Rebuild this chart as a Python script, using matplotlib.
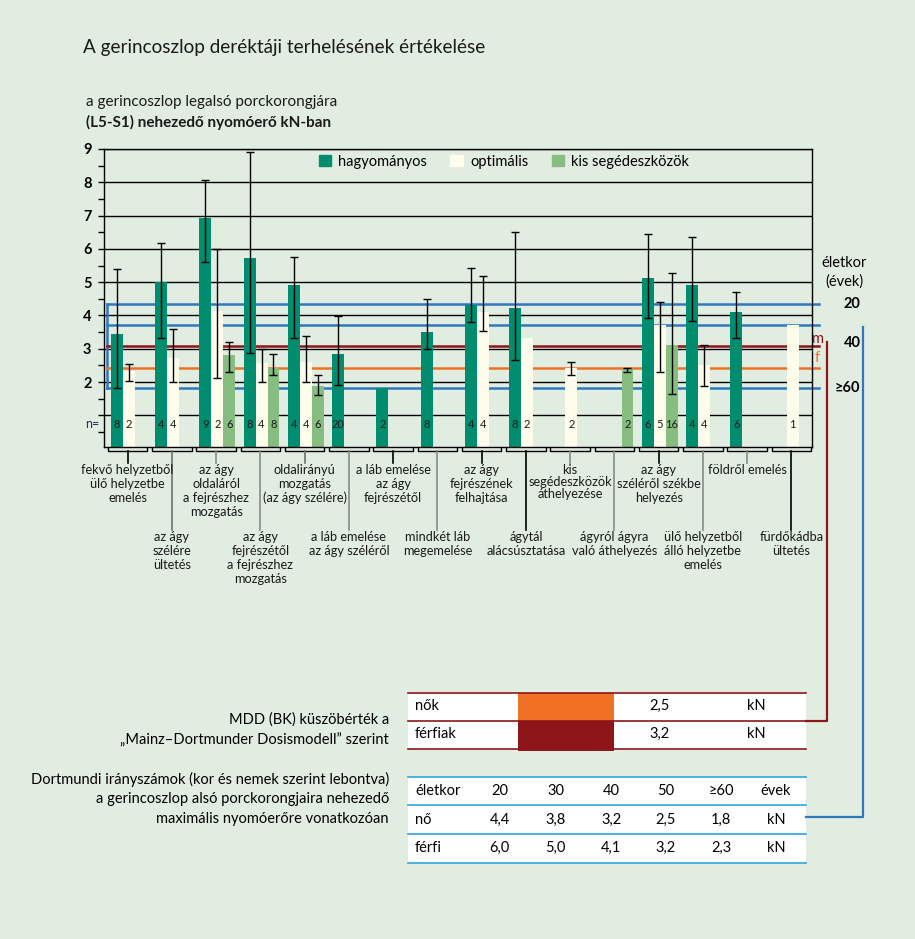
import numpy as np
import matplotlib.pyplot as plt
import matplotlib.transforms as mtransforms
from matplotlib.patches import Patch, Rectangle

plt.rcParams['font.family'] = ['Lato', 'DejaVu Sans']

nan = np.nan

# activity categories (even = upper label row, odd = lower label row)
categories = [
    'fekvő helyzetből\nülő helyzetbe\nemelés',
    'az ágy\nszélére\nültetés',
    'az ágy\noldaláról\na fejrészhez\nmozgatás',
    'az ágy\nfejrészétől\na fejrészhez\nmozgatás',
    'oldalirányú\nmozgatás\n(az ágy szélére)',
    'a láb emelése\naz ágy széléről',
    'a láb emelése\naz ágy\nfejrészétől',
    'mindkét láb\nmegemelése',
    'az ágy\nfejrészének\nfelhajtása',
    'ágytál\nalácsúsztatása',
    'kis\nsegédeszközök\náthelyezése',
    'ágyról ágyra\nvaló áthelyezés',
    'az ágy\nszéléről székbe\nhelyezés',
    'ülő helyzetből\nálló helyzetbe\nemelés',
    'földről emelés',
    'fürdőkádba\nültetés',
]

# hagyományos
hag = [3.45, 5.01, 6.94, 5.73, 4.92, 2.85, 1.82, 3.51, 4.32, 4.23, nan, nan, 5.12, 4.92, 4.10, nan]
hag_lo = [1.82, 3.31, 5.60, 2.87, 3.31, 1.90, nan, 2.99, 3.80, 2.66, nan, nan, 3.92, 3.82, 3.31, nan]
hag_hi = [5.39, 6.19, 8.06, 8.91, 5.77, 3.99, nan, 4.48, 5.42, 6.51, nan, nan, 6.46, 6.37, 4.70, nan]
hag_n = [8, 4, 9, 8, 4, 20, 2, 8, 4, 8, None, None, 6, 4, 6, None]

# optimális
opt = [2.34, 2.73, 4.14, 2.58, 2.61, nan, nan, nan, 4.11, 3.33, 2.43, nan, 3.71, 2.51, nan, 3.71]
opt_lo = [2.03, 2.00, 2.11, 2.00, 2.00, nan, nan, nan, 3.53, nan, 2.21, nan, 2.30, 1.87, nan, nan]
opt_hi = [2.53, 3.59, 6.00, 2.99, 3.39, nan, nan, nan, 5.20, nan, 2.60, nan, 4.39, 3.10, nan, nan]
opt_n = [2, 4, 2, 4, 4, None, None, None, 4, 2, 2, None, 5, 4, None, 1]

# kis segédeszközök
kis = [nan, nan, 2.80, 2.43, 1.89, nan, nan, nan, nan, nan, nan, 2.40, 3.11, nan, nan, nan]
kis_lo = [nan, nan, 2.30, 2.21, 1.60, nan, nan, nan, nan, nan, nan, 2.31, 1.64, nan, nan, nan]
kis_hi = [nan, nan, 3.19, 2.83, 2.20, nan, nan, nan, nan, nan, nan, 2.42, 5.29, nan, nan, nan]
kis_n = [None, None, 6, 8, 6, None, None, None, None, None, None, 2, 16, None, None, None]

# reference lines (kN)
limit_blue = [4.35, 3.70, 1.81]
limit_m = 3.09
limit_f = 2.43

# tables
mdd_rows = ['nők', 'férfiak']
mdd_vals = ['2,5', '3,2']
age_cols = ['20', '30', '40', '50', '≥60']
dort_female = ['4,4', '3,8', '3,2', '2,5', '1,8']
dort_male = ['6,0', '5,0', '4,1', '3,2', '2,3']

bg = '#E2EDE1'
c_hag = '#008C6F'
c_opt = '#FEFCEA'
c_kis = '#87BD80'
c_blue = '#2F78BE'
c_red = '#8E1519'
c_orange = '#F07024'
c_cyan = '#2AA6DF'

W, H = 915, 939
fig = plt.figure(figsize=(9.15, 9.39), dpi=100, facecolor=bg)


def fx(x):
    return x / W


def fy(y):
    return 1 - y / H


ax = fig.add_axes([fx(104), fy(447), (812 - 104) / W, (447 - 149) / H])
ax.set_facecolor(bg)
ax.set_xlim(0, 16)
ax.set_ylim(0.05, 9)
for s in ax.spines.values():
    s.set_linewidth(1.0)
    s.set_color('k')

ax.set_xticks([])
ax.set_yticks(range(1, 10))
ax.set_yticklabels([''] + [str(v) for v in range(2, 10)], fontweight='bold', fontsize=10.5)
ax.set_yticks(np.arange(0.5, 9, 1.0), minor=True)
ax.tick_params(axis='y', which='both', length=4, width=1, direction='out', pad=5)
ax.grid(axis='y', which='major', color='k', lw=1.0, zorder=0.5)
ax.set_axisbelow(True)

x = np.arange(len(categories))
w = 0.27
series = [
    (hag, hag_lo, hag_hi, hag_n, c_hag, 0.29),
    (opt, opt_lo, opt_hi, opt_n, c_opt, 0.56),
    (kis, kis_lo, kis_hi, kis_n, c_kis, 0.83),
]
for vals, lo, hi, ns, col, off in series:
    vals = np.array(vals)
    ax.bar(x + off, vals, width=w, color=col, zorder=2)
    yerr = [vals - np.array(lo), np.array(hi) - vals]
    ax.errorbar(x + off, vals, yerr=yerr, fmt='none', ecolor='k',
                elinewidth=1.0, capsize=3, capthick=1.0, zorder=3)
    for i, n in enumerate(ns):
        if n is not None:
            ax.text(x[i] + off, 0.74, str(n), ha='center', va='center',
                    fontsize=8, color='#1a1a1a', zorder=4)

ax.text(-0.1, 0.74, 'n=', ha='right', va='center', fontsize=9, color='#2B2C6E')

# reference lines, extending past the right spine
for v in limit_blue:
    ax.plot([0.07, 16.16], [v, v], color=c_blue, lw=1.8, clip_on=False, zorder=1)
ax.plot([0.07, 0.07], [min(limit_blue), max(limit_blue)], color=c_blue, lw=1.8, zorder=1)
ax.plot([0.07, 16.16], [limit_m, limit_m], color=c_red, lw=1.8, clip_on=False, zorder=1)
ax.plot([0.07, 16.16], [limit_f, limit_f], color=c_orange, lw=1.8, clip_on=False, zorder=1)

# legend
handles = [Patch(color=c_hag), Patch(color=c_opt), Patch(color=c_kis)]
ax.legend(handles, ['hagyományos', 'optimális', 'kis segédeszközök'], ncol=3,
          loc='center left', bbox_to_anchor=(0.303, 0.958), frameon=False,
          handlelength=0.85, handleheight=0.85, handletextpad=0.5,
          columnspacing=1.6, fontsize=10.5, borderaxespad=0, borderpad=0)

# category brackets, connectors and labels
trans = mtransforms.blended_transform_factory(ax.transData, ax.transAxes)
yb = -0.0144
conn_col = ['k', '#6f6f6f', '#8a8a8a', '#8a8a8a', '#6f6f6f', '#8a8a8a', 'k', '#8a8a8a',
            'k', 'k', '#8a8a8a', '#8a8a8a', 'k', '#8a8a8a', '#8a8a8a', 'k']
for i, lab in enumerate(categories):
    ax.plot([i + 0.09, i + 0.09, i + 0.98, i + 0.98], [-0.005, yb, yb, -0.005],
            transform=trans, clip_on=False, color='k', lw=1.0)
    lower = i % 2 == 1
    ybot = -0.2785 if lower else -0.0537
    ax.plot([i + 0.535, i + 0.535], [yb, ybot], transform=trans, clip_on=False,
            color=conn_col[i], lw=1.2)
    ls = 1.0 if i == 10 else 1.2
    ax.text(i + 0.535, ybot - 0.002, lab, transform=trans, ha='center', va='top',
            fontsize=9.2, linespacing=ls, color='#1a1a1a')

# titles
fig.text(fx(83), fy(47), 'A gerincoszlop deréktáji terhelésének értékelése',
         fontsize=13.6, va='center', ha='left', color='#1a1a1a')
fig.text(fx(86), fy(102), 'a gerincoszlop legalsó porckorongjára',
         fontsize=11, va='center', ha='left', color='#1a1a1a')
fig.text(fx(86), fy(122), '(L5-S1) nehezedő nyomóerő kN-ban',
         fontsize=11, va='center', ha='left', fontweight='bold', color='#1a1a1a')

# right side age labels
fig.text(fx(844), fy(263), 'életkor', fontsize=10.5, ha='center', va='center')
fig.text(fx(844), fy(282), '(évek)', fontsize=10.5, ha='center', va='center')
fig.text(fx(852), fy(304), '20', fontsize=10.5, ha='center', va='center', fontweight='bold')
fig.text(fx(852), fy(343), '40', fontsize=10.5, ha='center', va='center', fontweight='bold')
fig.text(fx(847), fy(388), '≥60', fontsize=10.5, ha='center', va='center', fontweight='bold')
fig.text(fx(818), fy(339), 'm', fontsize=10.5, ha='center', va='center', color=c_red)
fig.text(fx(817), fy(358), 'f', fontsize=10.5, ha='center', va='center', color=c_orange)

# overlay in pixel coordinates for tables and connectors
ov = fig.add_axes([0, 0, 1, 1])
ov.set_xlim(0, W)
ov.set_ylim(H, 0)
ov.axis('off')
ov.patch.set_alpha(0)

tl, tr = 408, 805.6

# MDD table
ov.add_patch(Rectangle((tl, 692.7), tr - tl, 56.6, facecolor='white', edgecolor='none'))
ov.add_patch(Rectangle((518, 692.7), 96, 28, facecolor=c_orange, edgecolor='none'))
ov.add_patch(Rectangle((518, 720.7), 96, 30, facecolor=c_red, edgecolor='none'))
for yy in [692.7, 720.7, 749.3]:
    ov.plot([tl, tr], [yy, yy], color=c_red, lw=1.2)
for r, (lab, val) in enumerate(zip(mdd_rows, mdd_vals)):
    yy = 706 + r * 28
    ov.text(415, yy, lab, fontsize=10.5, ha='left', va='center')
    ov.text(660, yy, val, fontsize=10.5, ha='center', va='center')
    ov.text(756, yy, 'kN', fontsize=10.5, ha='center', va='center')
fig.text(fx(389), fy(720), 'MDD (BK) küszöbérték a', fontsize=10.5, ha='right', va='center')
fig.text(fx(389), fy(740), '„Mainz–Dortmunder Dosismodell” szerint', fontsize=10.5,
         ha='right', va='center')

# Dortmund table
ov.add_patch(Rectangle((tl, 776.7), tr - tl, 86.3, facecolor='white', edgecolor='none'))
for yy in [776.7, 805.3, 834.3, 863]:
    ov.plot([tl, tr], [yy, yy], color=c_cyan, lw=1.2)
col_x = [499.6, 555.7, 611.3, 666, 721]
rows = [('életkor', age_cols, 'évek'), ('nő', dort_female, 'kN'), ('férfi', dort_male, 'kN')]
for r, (lab, vals, unit) in enumerate(rows):
    yy = 791 + r * 28.5
    ov.text(415, yy, lab, fontsize=10.5, ha='left', va='center')
    for cx, v in zip(col_x, vals):
        ov.text(cx, yy, v, fontsize=10.5, ha='center', va='center')
    ov.text(776, yy, unit, fontsize=10.5, ha='center', va='center')
fig.text(fx(389), fy(779), 'Dortmundi irányszámok (kor és nemek szerint lebontva)',
         fontsize=10.5, ha='right', va='center')
fig.text(fx(389), fy(799), 'a gerincoszlop alsó porckorongjaira nehezedő',
         fontsize=10.5, ha='right', va='center')
fig.text(fx(389), fy(819), 'maximális nyomóerőre vonatkozóan',
         fontsize=10.5, ha='right', va='center')

# connectors from the chart to the tables
ov.plot([tr, 826.7, 826.7], [720.7, 720.7, 342], color=c_red, lw=1.6)
ov.plot([tr, 862.7, 862.7], [817.3, 817.3, 327], color=c_blue, lw=1.6)

fig.savefig('out.png', dpi=100, facecolor=bg)
